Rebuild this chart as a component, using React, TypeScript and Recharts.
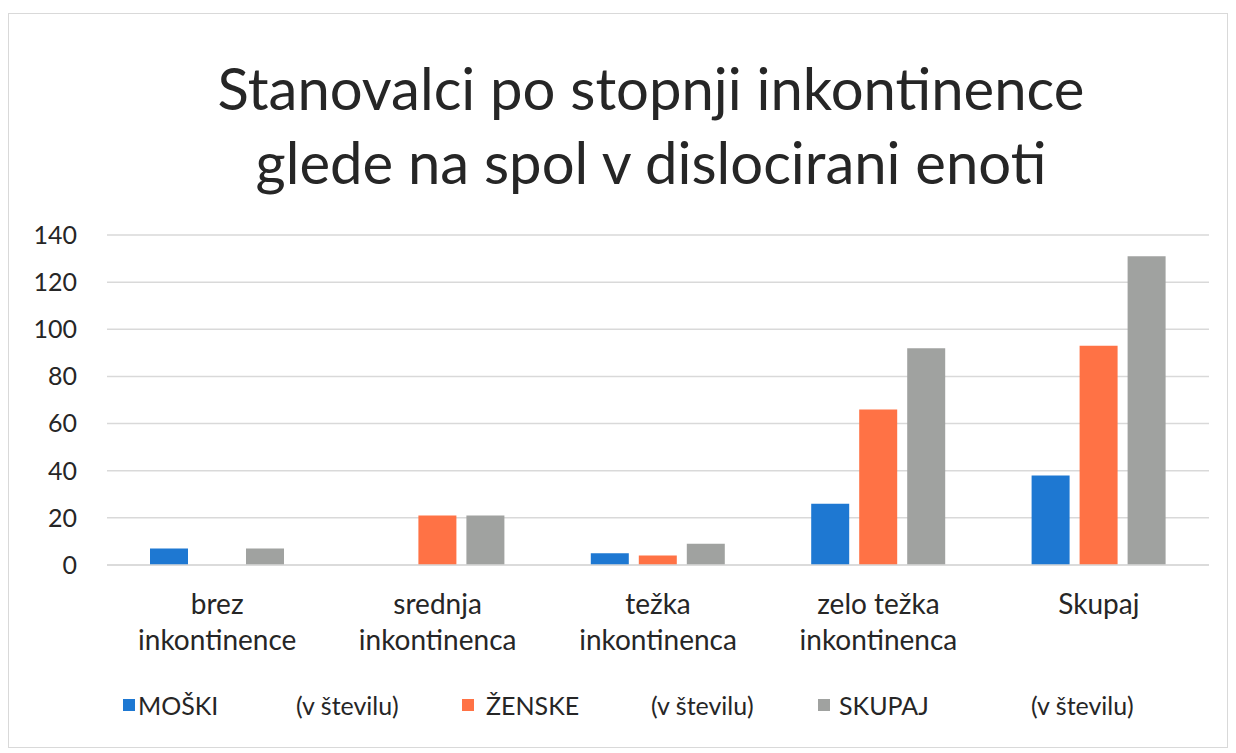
import React from "react";
import { BarChart, Bar, XAxis, YAxis, CartesianGrid, Legend } from "recharts";

const categories = [
  "brez inkontinence",
  "srednja inkontinenca",
  "težka inkontinenca",
  "zelo težka inkontinenca",
  "Skupaj",
];
const moski = [7, 0, 5, 26, 38];
const zenske = [0, 21, 4, 66, 93];
const skupaj = [7, 21, 9, 92, 131];
const yTicks = [0, 20, 40, 60, 80, 100, 120, 140];
const seriesNames = ["MOŠKI", "ŽENSKE", "SKUPAJ"];
const seriesUnit = "(v številu)";
const titleLines = ["Stanovalci po stopnji inkontinence", "glede na spol v dislocirani enoti"];

const COLORS = ["#1E78D2", "#FF7245", "#A0A2A0"];
const FONT = "Lato, 'Open Sans', sans-serif";

// legend layout (x of square, name, unit) relative to the chart frame
const LEGEND_POS = [
  [114, 129, 287],
  [453, 477, 642],
  [809, 830, 1022],
];

const data = categories.map((c, i) => ({
  name: c,
  m: moski[i],
  z: zenske[i],
  s: skupaj[i],
}));

const CatTick = (props: any) => {
  const { x, y, payload } = props;
  const words = String(payload.value).split(" ");
  const lines =
    words.length > 1
      ? [words.slice(0, -1).join(" "), words[words.length - 1]]
      : [words[0]];
  return (
    <g transform={`translate(${x},${y})`}>
      {lines.map((l, i) => (
        <text
          key={i}
          x={0}
          y={34 + i * 36}
          textAnchor="middle"
          fill="#262626"
          fontSize={28}
          fontFamily={FONT}
          dominantBaseline="middle"
        >
          {l}
        </text>
      ))}
    </g>
  );
};

const renderLegend = () => (
  <div
    style={{
      position: "relative",
      fontFamily: FONT,
      fontSize: 25,
      color: "#262626",
      height: 40,
      width: 1218,
    }}
  >
    {seriesNames.map((n, i) => (
      <React.Fragment key={n}>
        <span
          style={{
            position: "absolute",
            left: LEGEND_POS[i][0],
            top: 14,
            width: 12,
            height: 12,
            background: COLORS[i],
          }}
        />
        <span style={{ position: "absolute", left: LEGEND_POS[i][1], top: 5, lineHeight: "30px" }}>
          {n}
        </span>
        <span style={{ position: "absolute", left: LEGEND_POS[i][2], top: 5, lineHeight: "30px" }}>
          {seriesUnit}
        </span>
      </React.Fragment>
    ))}
  </div>
);

export default function App() {
  return (
    <div
      style={{
        position: "relative",
        width: 1220,
        height: 735,
        marginTop: 5,
        border: "1px solid #d9d9d9",
        boxSizing: "border-box",
        background: "#fff",
      }}
    >
      <div
        style={{
          position: "absolute",
          left: 82,
          top: 37,
          width: 1120,
          textAlign: "center",
          fontFamily: FONT,
          fontSize: 58,
          lineHeight: "74px",
          color: "#262626",
        }}
      >
        {titleLines.map((t) => (
          <div key={t}>{t}</div>
        ))}
      </div>
      <BarChart
        width={1218}
        height={733}
        data={data}
        margin={{ top: 221, right: 18, left: 0, bottom: 22 }}
        barSize={38}
        barGap={10}
      >
        <CartesianGrid vertical={false} stroke="#d9d9d9" strokeWidth={1.5} />
        <XAxis
          dataKey="name"
          tick={<CatTick />}
          tickLine={false}
          axisLine={{ stroke: "#d9d9d9", strokeWidth: 1.5 }}
          height={120}
          interval={0}
        />
        <YAxis
          width={98}
          domain={[0, 140]}
          ticks={yTicks}
          tickLine={false}
          axisLine={false}
          tick={{ fill: "#262626", fontSize: 25, fontFamily: FONT }}
          tickMargin={24}
        />
        <Legend verticalAlign="bottom" content={renderLegend} wrapperStyle={{ height: 40 }} />
        <Bar dataKey="m" name={seriesNames[0]} fill={COLORS[0]} isAnimationActive={false} />
        <Bar dataKey="z" name={seriesNames[1]} fill={COLORS[1]} isAnimationActive={false} />
        <Bar dataKey="s" name={seriesNames[2]} fill={COLORS[2]} isAnimationActive={false} />
      </BarChart>
    </div>
  );
}
